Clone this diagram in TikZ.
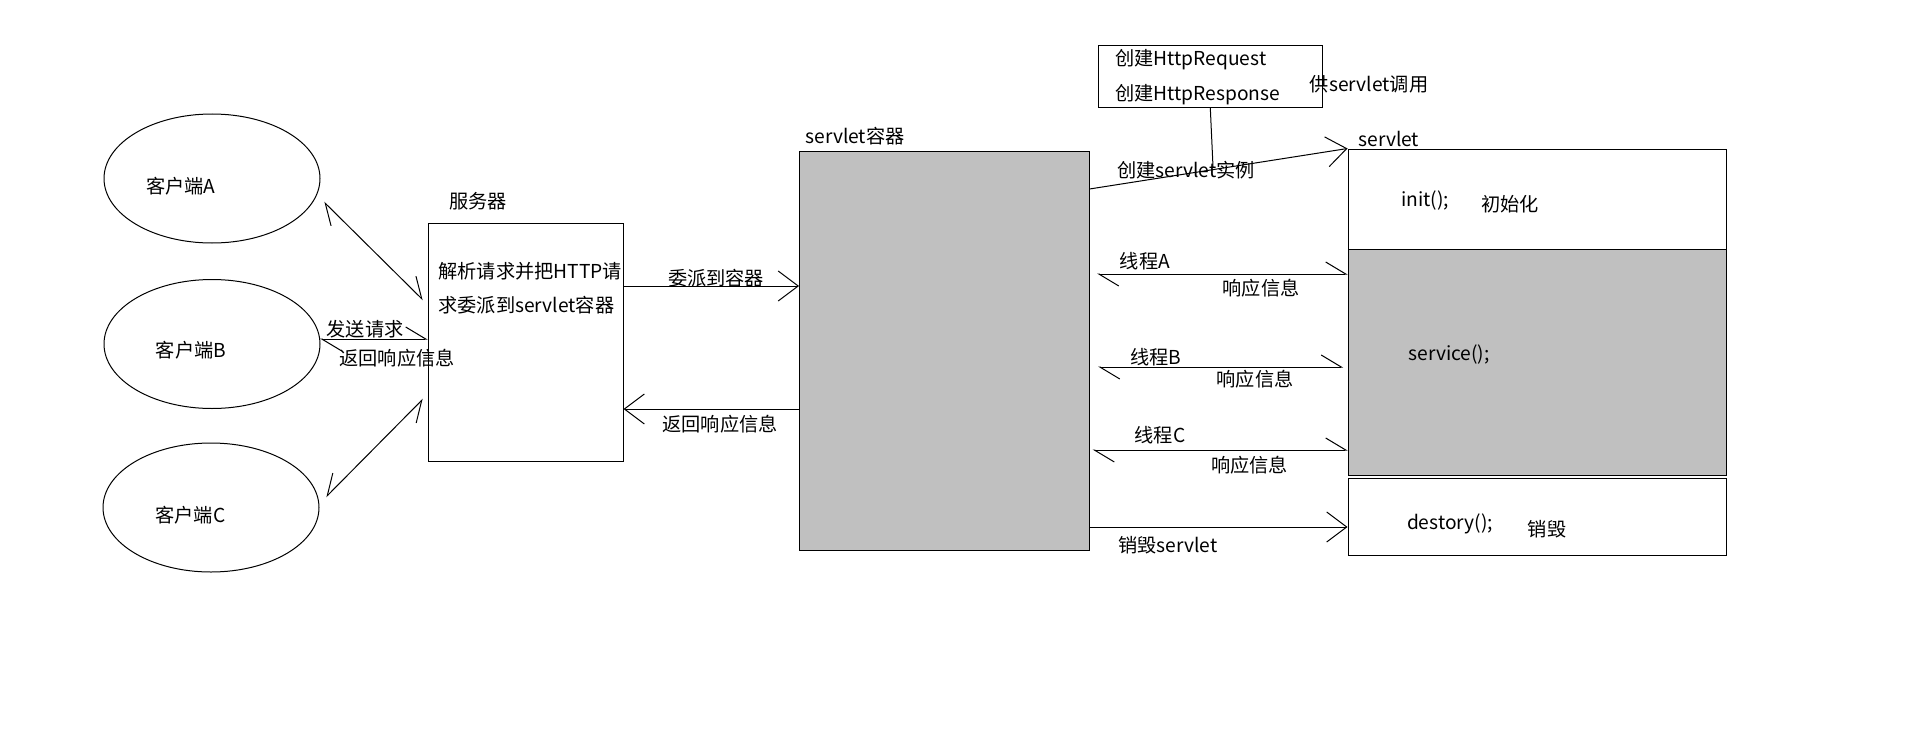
\documentclass[tikz,border=0pt]{standalone}
\usepackage{fontspec}
\setmainfont{Noto Sans CJK SC}
\usetikzlibrary{arrows.meta,shapes.geometric}
\definecolor{boxgray}{RGB}{192,192,192}
\begin{document}
\begin{tikzpicture}[x=0.5pt,y=-0.5pt,
  every node/.style={inner sep=0pt, font=\fontsize{9.6pt}{11pt}\selectfont},
  lnk/.style={line width=0.5pt, draw=black},
  box/.style={draw=black, line width=0.5pt, rectangle},
  ell/.style={draw=black, line width=0.5pt, ellipse, minimum width=108pt, minimum height=64.5pt},
  tipF/.tip={Straight Barb[length=10pt,width=15pt]},
  hL/.tip={Straight Barb[length=10pt,width=12pt,left]},
  hR/.tip={Straight Barb[length=10pt,width=12pt,right]},
]
\useasboundingbox (0,0) rectangle (1914,749);

% clients
\node[ell] (ellA) at (212,178.5) {};
\node[ell] (ellB) at (212,344) {};
\node[ell] (ellC) at (211,507.5) {};
\node (tA) at (180.7,186) {客户端A};
\node (tB) at (191,350) {客户端B};
\node (tC) at (190.5,515) {客户端C};

% server
\node[box, minimum width=97.5pt, minimum height=119pt] (srv) at (525.5,342) {};
\node (srvlbl) at (478,201) {服务器};
\node[anchor=west] (srvl1) at (438,271) {解析请求并把HTTP请};
\node[anchor=west] (srvl2) at (438,305) {求委派到servlet容器};

% container
\node[box, fill=boxgray, minimum width=144.75pt, minimum height=199.75pt] (cont) at (944.25,350.75) {};
\node[anchor=west] (contlbl) at (805,136) {servlet容器};

% request/response box
\node[box, minimum width=111.7pt, minimum height=30.75pt] (http) at (1210.3,76.75) {};
\node[anchor=west] (req) at (1115,60) {创建HttpRequest};
\node[anchor=west] (resp) at (1115,95) {创建HttpResponse};
\node (gong) at (1369,84) {供servlet调用};

% servlet
\node[box, minimum width=189pt, minimum height=50pt] (initb) at (1537,199) {};
\node[box, fill=boxgray, minimum width=189pt, minimum height=113.25pt] (svcb) at (1537,362.25) {};
\node[box, minimum width=189pt, minimum height=38.5pt] (destb) at (1537,516.5) {};
\node[anchor=west] (slbl) at (1358,139) {servlet};
\node (initt) at (1425,201) {init();};
\node (initc) at (1510,204) {初始化};
\node (svct) at (1449,355) {service();};
\node (destt) at (1450,524) {destory();};
\node (destc) at (1547,529) {销毁};

% connector labels
\node (send) at (365,329) {发送请求};
\node (ret1) at (397,358) {返回响应信息};
\node (deleg) at (716,278) {委派到容器};
\node (ret2) at (720,424) {返回响应信息};
\node (mk) at (1186,170) {创建servlet实例};
\node (thA) at (1145,261.5) {线程A};
\node (rA) at (1261,288) {响应信息};
\node (thB) at (1155.5,357.5) {线程B};
\node (rB) at (1255,378.7) {响应信息};
\node (thC) at (1160,435) {线程C};
\node (rC) at (1249.5,465) {响应信息};
\node (kill) at (1168,545.5) {销毁servlet};

% connectors
\coordinate (a1) at (324,202);
\coordinate (a2) at (423,300);
\draw[lnk, {hL}-{hL}] (a1) -- (a2);
\coordinate (b1) at (320,339);
\draw[lnk, {hL}-{hL}] (b1) -- (srv.west |- b1);
\coordinate (c1) at (326,497);
\coordinate (c2) at (423,399);
\draw[lnk, {hR}-{hR}] (c1) -- (c2);

\coordinate (d1) at (0,286);
\draw[lnk, -{tipF}] (srv.east |- d1) -- (cont.west |- d1);
\coordinate (r1) at (0,409);
\draw[lnk, -{tipF}] (cont.west |- r1) -- (srv.east |- r1);

\coordinate (m1) at (0,189);
\draw[lnk, -{tipF}] (cont.east |- m1) -- (initb.north west);
\coordinate (v1) at (1213,167);
\draw[lnk] (http.south) -- (v1);

\coordinate (tA1) at (1097,274);
\draw[lnk, {hL}-{hL}] (tA1) -- (svcb.west |- tA1);
\coordinate (tB1) at (1098,367);
\coordinate (tB2) at (1343,367);
\draw[lnk, {hL}-{hL}] (tB1) -- (tB2);
\coordinate (tC1) at (1092.5,450);
\draw[lnk, {hL}-{hL}] (tC1) -- (svcb.west |- tC1);
\coordinate (k1) at (0,527);
\draw[lnk, -{tipF}] (cont.east |- k1) -- (destb.west |- k1);
\end{tikzpicture}
\end{document}
